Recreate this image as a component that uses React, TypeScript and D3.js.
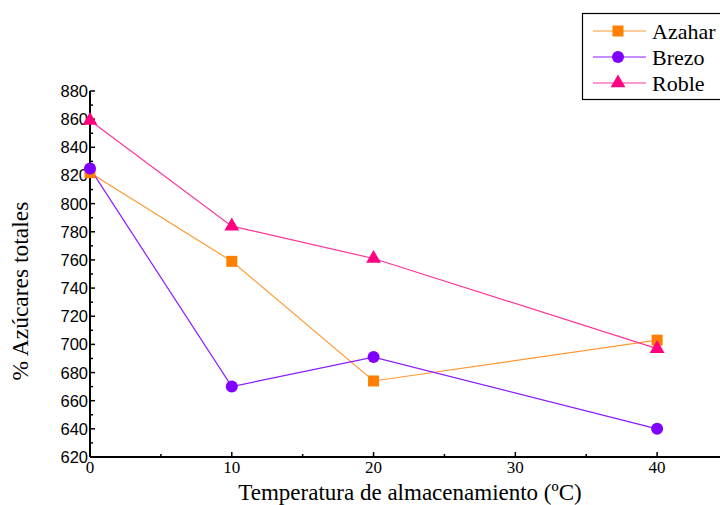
import React from "react";
import * as d3 from "d3";

const temperatures = [0, 10, 20, 40];
const azahar = [822, 759, 674, 703];
const brezo = [825, 670, 691, 640];
const roble = [859, 784, 761, 697];
const seriesNames = ["Azahar", "Brezo", "Roble"];
const yTicks = [620, 640, 660, 680, 700, 720, 740, 760, 780, 800, 820, 840, 860, 880];
const xTicks = [0, 10, 20, 30, 40];

const W = 720;
const H = 505;

const x = d3.scaleLinear().domain([0, 45]).range([90, 728]);
const y = d3.scaleLinear().domain([620, 880]).range([457, 91]);

const colors = ["#FF8000", "#8000FF", "#FF0080"];
const lineColors = ["#FF9933", "#8C1AFF", "#FF3399"];

function Marker({ kind, cx, cy, color }: { kind: number; cx: number; cy: number; color: string }) {
  if (kind === 0) {
    return <rect x={cx - 5.5} y={cy - 5.5} width={11} height={11} fill={color} />;
  }
  if (kind === 1) {
    return <circle cx={cx} cy={cy} r={6} fill={color} />;
  }
  const s = d3.symbol().type(d3.symbolTriangle).size(95)();
  return <path d={s ?? ""} transform={`translate(${cx},${cy})`} fill={color} />;
}

export default function App() {
  const series = [azahar, brezo, roble];
  const line = d3
    .line<number>()
    .x((_, i) => x(temperatures[i]))
    .y((d) => y(d));
  const minorY = d3.range(630, 880, 20);
  const minorX = [5, 15, 25, 35];
  const serif = "'Liberation Serif', 'Times New Roman', serif";
  const sans = "'Liberation Sans', Arial, sans-serif";

  return (
    <svg
      width={W}
      height={H}
      style={{ position: "absolute", left: 0, top: 0, background: "#fff" }}
    >
      {/* series lines */}
      {series.map((s, k) => (
        <path key={"l" + k} d={line(s) ?? ""} fill="none" stroke={lineColors[k]} strokeWidth={1.2} />
      ))}
      {/* axes */}
      <line x1={90} y1={y(620)} x2={W} y2={y(620)} stroke="#000" strokeWidth={2} />
      <line x1={90} y1={y(880)} x2={90} y2={y(620)} stroke="#000" strokeWidth={2} />
      {yTicks.map((t) => (
        <g key={"yt" + t}>
          <line x1={90} x2={95} y1={y(t)} y2={y(t)} stroke="#000" strokeWidth={1.5} />
          <text
            x={88}
            y={y(t)}
            textAnchor="end"
            dominantBaseline="central"
            fontFamily={sans}
            fontSize={16.5}
            fill="#000"
          >
            {t}
          </text>
        </g>
      ))}
      {minorY.map((t) => (
        <line key={"ym" + t} x1={90} x2={93} y1={y(t)} y2={y(t)} stroke="#000" strokeWidth={1.5} />
      ))}
      {xTicks.map((t) => (
        <g key={"xt" + t}>
          <line x1={x(t)} x2={x(t)} y1={y(620)} y2={y(620) - 5} stroke="#000" strokeWidth={1.5} />
          <text
            x={x(t)}
            y={y(620) + 16}
            textAnchor="middle"
            fontFamily={serif}
            fontSize={17}
            fill="#000"
          >
            {t}
          </text>
        </g>
      ))}
      {minorX.map((t) => (
        <line key={"xm" + t} x1={x(t)} x2={x(t)} y1={y(620)} y2={y(620) - 3} stroke="#000" strokeWidth={1.5} />
      ))}
      {/* markers */}
      {series.map((s, k) =>
        s.map((v, i) => (
          <Marker key={`m${k}-${i}`} kind={k} cx={x(temperatures[i])} cy={y(v)} color={colors[k]} />
        ))
      )}
      {/* axis titles */}
      <text
        x={410}
        y={500}
        textAnchor="middle"
        fontFamily={serif}
        fontSize={23}
        fill="#000"
      >
        Temperatura de almacenamiento (ºC)
      </text>
      <text
        transform="translate(28,291) rotate(-90)"
        textAnchor="middle"
        fontFamily={serif}
        fontSize={23.5}
        fill="#000"
      >
        % Azúcares totales
      </text>
      {/* legend */}
      <rect x={582.5} y={13.5} width={150} height={86} fill="#fff" stroke="#000" strokeWidth={1.2} />
      {seriesNames.map((name, k) => {
        const ly = 31 + k * 26;
        return (
          <g key={"lg" + k}>
            <line x1={593} x2={646} y1={ly} y2={ly} stroke={lineColors[k]} strokeWidth={1.2} />
            <Marker kind={k} cx={618} cy={ly} color={colors[k]} />
            <text x={652} y={ly} dominantBaseline="central" fontFamily={serif} fontSize={22} fill="#000">
              {name}
            </text>
          </g>
        );
      })}
    </svg>
  );
}
